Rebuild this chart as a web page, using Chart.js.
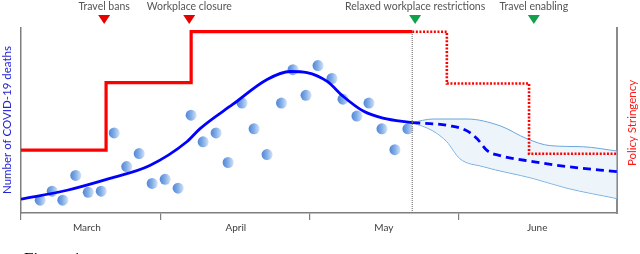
<!DOCTYPE html>
<html>
<head>
<meta charset="utf-8">
<script src="https://cdn.jsdelivr.net/npm/chart.js@4/dist/chart.umd.min.js"></script>
<style>
  html, body { margin: 0; padding: 0; background: #ffffff; }
  #wrap { width: 640px; height: 254px; }
</style>
</head>
<body>
<div id="wrap"><canvas id="c" width="640" height="254"></canvas></div>
<script>
// ---- Data (x in days from 1 March; y in 0-100 relative units) ----
const monthNames = ['March', 'April', 'May', 'June'];
const monthStarts = [0, 29, 60, 91];
const monthMids = [13.7, 44.7, 75.5, 107.4];

const deathDays = [4, 6.5, 8.7, 11.4, 14, 16.7, 19.4, 22, 24.6, 27.3, 30, 32.7, 35.4, 37.9,
  40.6, 43.1, 46, 48.5, 51.2, 54.2, 56.6, 59.3, 61.8, 64.7, 67, 69.9, 72.4, 75.1, 77.8, 80.5];
const deathValues = [6.9, 11.8, 6.9, 20.3, 11.2, 11.8, 43.3, 25.1, 32.1, 16, 18.2, 13.4, 52.9, 38.5,
  43.3, 27.3, 59.4, 45.5, 31.6, 59.4, 77.5, 63.6, 79.7, 72.7, 61.5, 52.4, 59.4, 45.5, 34.2, 45.5];

const fitDays = [0, 9.6, 18.5, 26.8, 34.5, 37.2, 44.1, 51.2, 56, 59.5, 63.7, 67, 71.2, 75.3, 81.4];
const fitValues = [7.5, 12.3, 18.7, 25.7, 38.5, 45.5, 58.8, 72.2, 76.5, 75.9, 71.1, 63.1, 55.1, 51.3, 48.9];

const forecastDays = [81.4, 89.3, 92.8, 94.9, 97, 99.7, 106.5, 113.6, 124];
const forecastValues = [48.9, 47.1, 44.4, 40.1, 33.7, 31, 27.8, 25.1, 22.3];

const upperDays = [81.4, 85.7, 92.8, 99.7, 105.3, 110.1, 117, 124];
const upperValues = [48.9, 50.8, 50.8, 47.1, 40.1, 36.4, 35.8, 33.5];

const lowerDays = [81.4, 85.7, 88.6, 91.3, 96.1, 106.5, 113.6, 124];
const lowerValues = [48.9, 44.4, 38.5, 29.4, 25.1, 18.7, 13.4, 7.8];

const policyDays = [0, 17.7, 35.4, 81.4];
const policyValues = [34, 70.5, 98, 98];
const policyPlanDays = [81.4, 88.6, 105.7, 124];
const policyPlanValues = [98, 70, 32, 32];

const cutoffDay = 81.4;
const eventLabels = ['Travel bans', 'Workplace closure', 'Relaxed workplace restrictions', 'Travel enabling'];
const eventDays = [17.3, 35, 82, 106.7];
const eventKinds = ['tighten', 'tighten', 'relax', 'relax'];

// ---- Build chart ----
const pts = (xs, ys) => xs.map((x, i) => ({ x, y: ys[i] }));
const kindColor = { tighten: '#e60000', relax: '#13a04b' };

function dotFill(c) {
  if (c.type !== 'data' || !c.raw) return '#6f9fe0';
  const ch = c.chart;
  if (!ch.scales || !ch.scales.x || !ch.scales.y) return '#6f9fe0';
  const px = ch.scales.x.getPixelForValue(c.raw.x);
  const py = ch.scales.y.getPixelForValue(c.raw.y);
  if (!isFinite(px) || !isFinite(py)) return '#6f9fe0';
  const g = ch.ctx.createLinearGradient(px - 5.5, py, px + 5.5, py);
  g.addColorStop(0, '#4f86d6');
  g.addColorStop(0.45, '#7eaae6');
  g.addColorStop(1, '#d3e3f7');
  return g;
}

const textPlugin = {
  id: 'texts',
  afterDraw(chart) {
    const ctx = chart.ctx;
    const xs = chart.scales.x;
    const top = chart.chartArea.top;
    ctx.save();
    eventDays.forEach((d, i) => {
      const px = xs.getPixelForValue(d);
      ctx.fillStyle = kindColor[eventKinds[i]];
      ctx.beginPath();
      ctx.moveTo(px - 6, top - 13);
      ctx.lineTo(px + 6, top - 13);
      ctx.lineTo(px, top - 4);
      ctx.closePath();
      ctx.fill();
    });
    ctx.font = '10.5px Lato, "Open Sans", sans-serif';
    ctx.fillStyle = '#555555';
    ctx.textAlign = 'center';
    ctx.textBaseline = 'middle';
    eventLabels.forEach((t, i) => {
      ctx.fillText(t, xs.getPixelForValue(eventDays[i]), 6.5);
    });
    ctx.font = '11.5px Lato, "Open Sans", sans-serif';
    ctx.fillStyle = '#2323d8';
    ctx.translate(7, 120);
    ctx.rotate(-Math.PI / 2);
    ctx.fillText('Number of COVID-19 deaths', 0, 0);
    ctx.restore();
    ctx.save();
    ctx.font = '11.5px Lato, "Open Sans", sans-serif';
    ctx.fillStyle = '#ff1a1a';
    ctx.textAlign = 'center';
    ctx.textBaseline = 'middle';
    ctx.translate(632, 123);
    ctx.rotate(-Math.PI / 2);
    ctx.fillText('Policy Stringency', 0, 0);
    ctx.restore();
    ctx.save();
    ctx.font = '17px "Liberation Serif", serif';
    ctx.fillStyle = '#000000';
    ctx.textAlign = 'left';
    ctx.textBaseline = 'top';
    ctx.fillText('Figure 1', 24, 251);
    ctx.restore();
  }
};

new Chart(document.getElementById('c'), {
  type: 'line',
  data: {
    datasets: [
      {
        label: 'Policy',
        data: pts(policyDays, policyValues),
        stepped: 'before',
        borderColor: '#ff0000',
        borderWidth: 3.2,
        pointRadius: 0,
        fill: false,
        order: 1
      },
      {
        label: 'Policy plan',
        data: pts(policyPlanDays, policyPlanValues),
        stepped: 'before',
        borderColor: '#ff0000',
        borderWidth: 2.6,
        borderDash: [2, 1.6],
        pointRadius: 0,
        fill: false,
        order: 1
      },
      {
        label: 'Cutoff',
        data: [{ x: cutoffDay, y: 0 }, { x: cutoffDay, y: policyValues[policyValues.length - 1] }],
        borderColor: '#7a7a7a',
        borderWidth: 1.2,
        borderDash: [1, 1],
        pointRadius: 0,
        fill: false,
        order: 2
      },
      {
        label: 'Fit',
        data: pts(fitDays, fitValues),
        borderColor: '#0000ff',
        borderWidth: 2.8,
        cubicInterpolationMode: 'monotone',
        pointRadius: 0,
        fill: false,
        order: 2
      },
      {
        label: 'Forecast',
        data: pts(forecastDays, forecastValues),
        borderColor: '#0000ff',
        borderWidth: 2.8,
        borderDash: [8, 5],
        cubicInterpolationMode: 'monotone',
        pointRadius: 0,
        fill: false,
        order: 2
      },
      {
        label: 'Deaths',
        data: pts(deathDays, deathValues),
        showLine: false,
        pointStyle: 'circle',
        pointRadius: 5.5,
        borderWidth: 0,
        backgroundColor: dotFill,
        order: 3
      },
      {
        label: 'Upper',
        data: pts(upperDays, upperValues),
        borderColor: '#6aa6dc',
        borderWidth: 1,
        cubicInterpolationMode: 'monotone',
        pointRadius: 0,
        fill: '+1',
        backgroundColor: 'rgba(215,232,247,0.45)',
        order: 4
      },
      {
        label: 'Lower',
        data: pts(lowerDays, lowerValues),
        borderColor: '#6aa6dc',
        borderWidth: 1,
        cubicInterpolationMode: 'monotone',
        pointRadius: 0,
        fill: false,
        order: 4
      }
    ]
  },
  options: {
    responsive: false,
    devicePixelRatio: 1,
    animation: false,
    events: [],
    layout: { padding: { left: 21, right: 23, top: 28, bottom: 10 } },
    plugins: { legend: { display: false }, tooltip: { enabled: false } },
    scales: {
      x: {
        type: 'linear',
        position: 'bottom',
        min: 0,
        max: 124,
        afterBuildTicks: s => { s.ticks = monthStarts.map(v => ({ value: v })); },
        ticks: { callback: () => '', display: true },
        grid: { drawOnChartArea: false, drawTicks: true, tickLength: 7, color: '#7f7f7f', lineWidth: 1.2 },
        border: { display: true, color: '#7f7f7f', width: 1.5 },
        afterFit: s => { s.height = 7; }
      },
      x2: {
        type: 'linear',
        position: 'bottom',
        min: 0,
        max: 124,
        afterBuildTicks: s => { s.ticks = monthMids.map(v => ({ value: v })); },
        ticks: {
          callback: (v, i) => monthNames[i],
          autoSkip: false,
          maxRotation: 0,
          padding: 2,
          color: '#404040',
          font: { family: 'Lato, "Open Sans", sans-serif', size: 10 }
        },
        grid: { display: false, drawTicks: false },
        border: { display: false },
        afterFit: s => { s.height = 24; }
      },
      y: {
        position: 'left',
        min: 0,
        max: 100,
        ticks: { display: false },
        grid: { drawOnChartArea: false, drawTicks: false },
        border: { display: true, color: '#7f7f7f', width: 1.5 },
        afterFit: s => { s.width = 0; }
      },
      y2: {
        position: 'right',
        min: 0,
        max: 100,
        ticks: { display: false },
        grid: { drawOnChartArea: false, drawTicks: false },
        border: { display: true, color: '#8a8a8a', width: 2 },
        afterFit: s => { s.width = 0; }
      }
    }
  },
  plugins: [textPlugin]
});
</script>
</body>
</html>
